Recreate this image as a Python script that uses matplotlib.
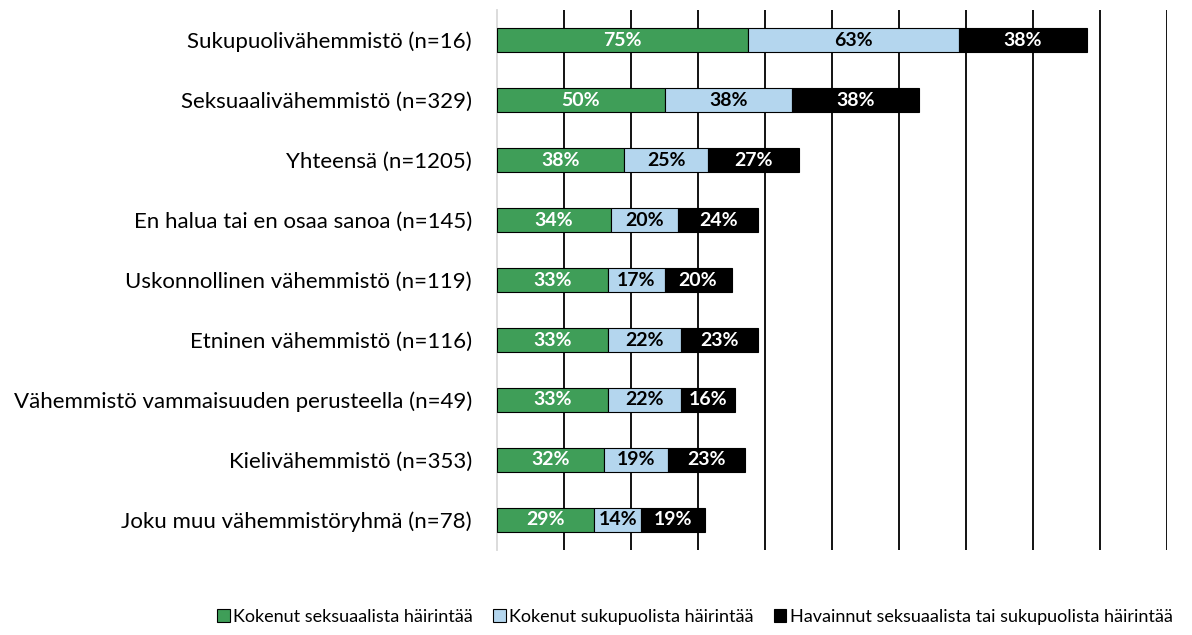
import matplotlib.pyplot as plt
import numpy as np

plt.rcParams['font.family'] = ['Lato', 'DejaVu Sans']

groups = [
    'Sukupuolivähemmistö (n=16)',
    'Seksuaalivähemmistö (n=329)',
    'Yhteensä (n=1205)',
    'En halua tai en osaa sanoa (n=145)',
    'Uskonnollinen vähemmistö (n=119)',
    'Etninen vähemmistö (n=116)',
    'Vähemmistö vammaisuuden perusteella (n=49)',
    'Kielivähemmistö (n=353)',
    'Joku muu vähemmistöryhmä (n=78)',
]
seksuaalinen = [75, 50, 38, 34, 33, 33, 33, 32, 29]
sukupuolinen = [63, 38, 25, 20, 17, 22, 22, 19, 14]
havainnut = [38, 38, 27, 24, 20, 23, 16, 23, 19]
series_names = [
    'Kokenut seksuaalista häirintää',
    'Kokenut sukupuolista häirintää',
    'Havainnut seksuaalista tai sukupuolista häirintää',
]
colors = ['#3f9e58', '#b4d6ee', '#000000']
text_colors = ['white', 'black', 'white']

fig = plt.figure(figsize=(11.92, 6.35), dpi=100)
ax = fig.add_axes([0.417, 0.134, 0.562, 0.850])

y = np.arange(len(groups))
left = np.zeros(len(groups))
for vals, name, col, tcol in zip([seksuaalinen, sukupuolinen, havainnut],
                                 series_names, colors, text_colors):
    vals = np.array(vals, dtype=float)
    bars = ax.barh(y, vals, left=left, height=0.39, color=col,
                   edgecolor='black', linewidth=0.8, label=name, zorder=3)
    for b, v in zip(bars, vals):
        ax.text(b.get_x() + b.get_width() / 2, b.get_y() + b.get_height() / 2,
                f'{v:.0f}%', ha='center', va='center', color=tcol,
                fontsize=14, fontweight='bold', zorder=4)
    left += vals

ax.set_xlim(0, 200)
ax.set_ylim(len(groups) - 0.5, -0.5)
ax.set_xticks(np.arange(20, 201, 20))
ax.xaxis.grid(True, color='black', linewidth=1.3, zorder=0)
ax.tick_params(axis='x', length=0, labelbottom=False)
ax.tick_params(axis='y', length=0, pad=18, labelsize=16)
ax.set_yticks(y)
ax.set_yticklabels(groups)
for s in ['top', 'right', 'bottom']:
    ax.spines[s].set_visible(False)
ax.spines['left'].set_color('#d9d9d9')
ax.spines['left'].set_linewidth(1.3)

fig.legend(loc='lower center', bbox_to_anchor=(0.583, -0.01), ncol=3,
           frameon=False, fontsize=13, handlelength=0.7, handleheight=0.7,
           handletextpad=0.2, columnspacing=1.1)

fig.savefig('out.png', dpi=100)
